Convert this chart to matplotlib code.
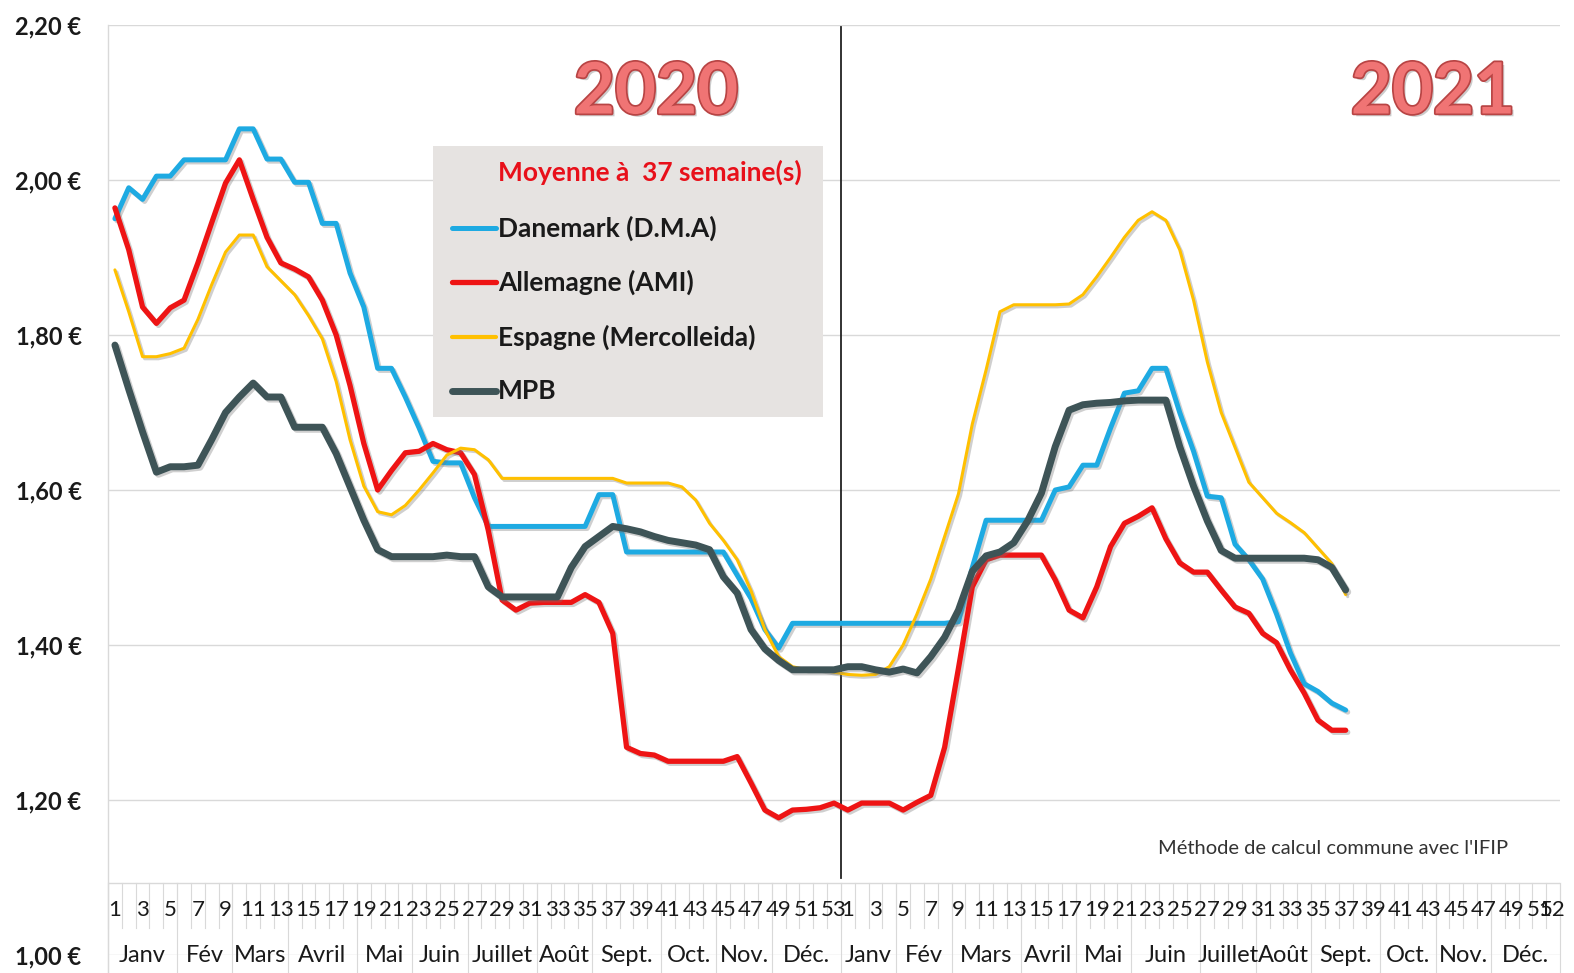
import numpy as np
import matplotlib.pyplot as plt
import matplotlib.patheffects as pe
from matplotlib.patches import Rectangle

plt.rcParams['font.family'] = ['Lato', 'DejaVu Sans']
NARROW = ['Liberation Sans Narrow', 'Lato', 'DejaVu Sans']

# weekly prices (EUR/kg), 53 weeks of 2020 then weeks 1-37 of 2021
danemark_2020 = [1.95, 1.99, 1.975, 2.005, 2.005, 2.026, 2.026, 2.026, 2.026, 2.066,
                 2.066, 2.027, 2.027, 1.997, 1.997, 1.944, 1.944, 1.88, 1.836, 1.757,
                 1.757, 1.72, 1.68, 1.637, 1.635, 1.635, 1.59, 1.553, 1.553, 1.553,
                 1.553, 1.553, 1.553, 1.553, 1.553, 1.594, 1.594, 1.52, 1.52, 1.52,
                 1.52, 1.52, 1.52, 1.52, 1.52, 1.49, 1.46, 1.42, 1.396, 1.428,
                 1.428, 1.428, 1.428]
danemark_2021 = [1.428, 1.428, 1.428, 1.428, 1.428, 1.428, 1.428, 1.428, 1.43, 1.50,
                 1.561, 1.561, 1.561, 1.561, 1.561, 1.60, 1.604, 1.632, 1.632, 1.68,
                 1.725, 1.728, 1.757, 1.757, 1.70, 1.65, 1.592, 1.59, 1.53, 1.51,
                 1.485, 1.44, 1.39, 1.35, 1.34, 1.325, 1.316]

allemagne_2020 = [1.964, 1.91, 1.836, 1.815, 1.835, 1.845, 1.893, 1.945, 1.996, 2.026,
                  1.975, 1.926, 1.893, 1.885, 1.875, 1.845, 1.80, 1.735, 1.66, 1.60,
                  1.625, 1.648, 1.65, 1.66, 1.652, 1.648, 1.62, 1.548, 1.458, 1.445,
                  1.454, 1.455, 1.455, 1.455, 1.465, 1.455, 1.415, 1.268, 1.26, 1.258,
                  1.25, 1.25, 1.25, 1.25, 1.25, 1.256, 1.222, 1.187, 1.177, 1.187,
                  1.188, 1.19, 1.196]
allemagne_2021 = [1.187, 1.196, 1.196, 1.196, 1.187, 1.197, 1.206, 1.268, 1.37, 1.475,
                  1.51, 1.516, 1.516, 1.516, 1.516, 1.484, 1.445, 1.435, 1.475, 1.527,
                  1.557, 1.566, 1.577, 1.537, 1.506, 1.494, 1.494, 1.471, 1.449, 1.441,
                  1.415, 1.403, 1.368, 1.338, 1.303, 1.29, 1.29]

espagne_2020 = [1.884, 1.83, 1.772, 1.772, 1.776, 1.783, 1.82, 1.865, 1.907, 1.929,
                1.929, 1.888, 1.87, 1.852, 1.825, 1.795, 1.74, 1.665, 1.605, 1.572,
                1.568, 1.58, 1.60, 1.622, 1.645, 1.654, 1.652, 1.639, 1.615, 1.615,
                1.615, 1.615, 1.615, 1.615, 1.615, 1.615, 1.615, 1.609, 1.609, 1.609,
                1.609, 1.604, 1.587, 1.557, 1.535, 1.51, 1.47, 1.42, 1.385, 1.372,
                1.368, 1.368, 1.365]
espagne_2021 = [1.362, 1.361, 1.362, 1.372, 1.40, 1.44, 1.485, 1.54, 1.595, 1.685,
                1.755, 1.83, 1.839, 1.839, 1.839, 1.839, 1.84, 1.852, 1.875, 1.90,
                1.926, 1.948, 1.959, 1.948, 1.91, 1.845, 1.765, 1.70, 1.655, 1.61,
                1.59, 1.57, 1.558, 1.545, 1.525, 1.505, 1.465]

mpb_2020 = [1.787, 1.73, 1.675, 1.623, 1.63, 1.63, 1.632, 1.665, 1.70, 1.72,
            1.738, 1.72, 1.72, 1.681, 1.681, 1.681, 1.647, 1.604, 1.561, 1.523,
            1.514, 1.514, 1.514, 1.514, 1.516, 1.514, 1.514, 1.475, 1.462, 1.462,
            1.462, 1.462, 1.462, 1.50, 1.527, 1.54, 1.553, 1.55, 1.546, 1.54,
            1.535, 1.532, 1.529, 1.523, 1.488, 1.467, 1.42, 1.395, 1.38, 1.368,
            1.368, 1.368, 1.368]
mpb_2021 = [1.372, 1.372, 1.368, 1.365, 1.369, 1.364, 1.385, 1.41, 1.445, 1.495,
            1.515, 1.52, 1.532, 1.56, 1.596, 1.656, 1.703, 1.71, 1.712, 1.713,
            1.715, 1.716, 1.716, 1.716, 1.656, 1.605, 1.56, 1.522, 1.512, 1.512,
            1.512, 1.512, 1.512, 1.512, 1.51, 1.50, 1.471]

weeks_2020 = list(range(1, 54))
weeks_2021 = list(range(1, 53))
months = ['Janv', 'Fév', 'Mars', 'Avril', 'Mai', 'Juin', 'Juillet', 'Août',
          'Sept.', 'Oct.', 'Nov.', 'Déc.']
month_weeks_2020 = [5, 4, 4, 5, 4, 4, 5, 4, 5, 4, 4, 5]
month_weeks_2021 = [4, 4, 5, 4, 4, 5, 4, 4, 5, 4, 4, 5]

yticks = [1.0, 1.2, 1.4, 1.6, 1.8, 2.0, 2.2]
ylabels = ['1,00 €', '1,20 €', '1,40 €', '1,60 €', '1,80 €', '2,00 €', '2,20 €']

series = [
    ('Danemark (D.M.A)', danemark_2020, danemark_2021, '#1eaae2', 3.6),
    ('Allemagne (AMI)', allemagne_2020, allemagne_2021, '#ee1414', 3.8),
    ('Espagne (Mercolleida)', espagne_2020, espagne_2021, '#ffc000', 2.2),
    ('MPB', mpb_2020, mpb_2021, '#3e5457', 5.0),
]

W, H = 1574, 973
fig = plt.figure(figsize=(W / 100, H / 100), dpi=100)
ax = fig.add_axes([108 / W, 18 / H, (1560 - 108) / W, (955 - 25) / H])
n = len(weeks_2020) + len(weeks_2021)
ax.set_xlim(-0.5, n - 0.5)
ax.set_ylim(1.0, 2.2)
for s in ax.spines.values():
    s.set_visible(False)
ax.set_xticks([])
ax.set_yticks(yticks)
ax.set_yticklabels(ylabels, fontsize=17, fontweight='bold', color='#1a1a1a')
ax.tick_params(axis='y', length=0, pad=19)

grid_c = '#d9d9d9'
for v in yticks:
    ax.axhline(v, color=grid_c, lw=1, zorder=0)
ax.plot([-0.5, -0.5], [0.977, 2.2], color=grid_c, lw=1, clip_on=False, zorder=0)

# category axis (two levels)
y_axis = 1.093
ax.plot([-0.5, n - 0.5], [y_axis, y_axis], color=grid_c, lw=1, zorder=0)
for b in range(n + 1):
    ax.plot([b - 0.5, b - 0.5], [y_axis, 1.035], color=grid_c, lw=0.8,
            clip_on=False, zorder=0)
labels = [w for w in weeks_2020] + [w for w in weeks_2021]
for i, w in enumerate(labels):
    last = (i == n - 1)
    if w % 2 == 1 or last:
        ax.text(i, 1.058, str(w), ha='center', va='center', fontsize=16,
                family=NARROW, color='#1a1a1a', clip_on=False)
start = 0
for counts in (month_weeks_2020, month_weeks_2021):
    for name, c in zip(months, counts):
        ax.plot([start - 0.5, start - 0.5], [y_axis, 0.977], color=grid_c, lw=0.8,
                clip_on=False, zorder=0)
        ax.text(start + (c - 1) / 2, 1.0, name, ha='center', va='center',
                fontsize=17, family=NARROW, color='#1a1a1a', clip_on=False)
        start += c
ax.plot([n - 0.5, n - 0.5], [y_axis, 0.977], color=grid_c, lw=0.8, clip_on=False)

# year separator
sep = len(weeks_2020) - 0.5
ax.plot([sep, sep], [1.10, 2.197], color='#222222', lw=1.3, zorder=1)

shadow = [pe.SimpleLineShadow(offset=(1.5, -1.5), shadow_color='#777777', alpha=0.35),
          pe.Normal()]
x = np.arange(n)
for k, (name, a, b, col, lw) in enumerate(series):
    y = np.full(n, np.nan)
    y[:len(a)] = a
    y[len(a):len(a) + len(b)] = b
    ax.plot(x, y, color=col, lw=lw, solid_joinstyle='round', solid_capstyle='round',
            path_effects=shadow, zorder=3 + k)


def fx(px):
    return px / W


def fy(py):
    return 1 - py / H


# legend box
fig.patches.append(Rectangle((fx(433), fy(417)), (823 - 433) / W, (417 - 146) / H,
                             transform=fig.transFigure, facecolor='#e6e3e1',
                             edgecolor='none', zorder=5))
fig.text(fx(498), fy(172), 'Moyenne à  37 semaine(s)', color='#e8101a',
         fontsize=19, fontweight='bold', va='center', ha='left', zorder=6)
for (name, a, b, col, lw), yy in zip(series, [228, 282, 337, 391]):
    fig.lines.append(plt.Line2D([fx(452), fx(496)], [fy(yy), fy(yy)],
                                transform=fig.transFigure, color=col,
                                lw=max(lw, 3.0), solid_capstyle='round', zorder=6))
    fig.text(fx(498), fy(yy), name, color='#1a1a1a', fontsize=19,
             fontweight='bold', va='center', ha='left', zorder=6)

# year titles
year_fx = [pe.SimplePatchShadow(offset=(2, -2), shadow_rgbFace='#999999', alpha=0.5),
           pe.withStroke(linewidth=2.5, foreground='#b84444')]
for txt, px in [('2020', 656), ('2021', 1433)]:
    fig.text(fx(px), fy(93), txt, color='#f07474', fontsize=51, fontweight='bold',
             family=NARROW, ha='center', va='center', path_effects=year_fx)

fig.text(fx(1508), fy(848), "Méthode de calcul commune avec l'IFIP", ha='right',
         va='center', fontsize=14.5, color='#333333')

fig.savefig('out.png', dpi=100)
